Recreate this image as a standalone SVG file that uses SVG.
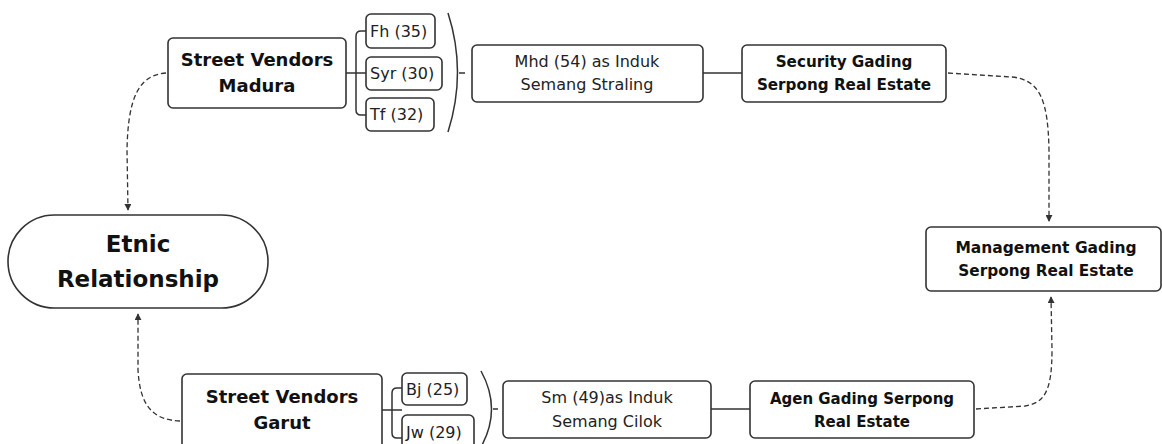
<svg xmlns="http://www.w3.org/2000/svg" width="1162" height="444" viewBox="0 0 1162 444">
<style>
.box{fill:#fff;stroke:#333;stroke-width:1.6}
.b{font-family:"DejaVu Sans",sans-serif;font-weight:bold;fill:#111;text-anchor:middle}
.r{font-family:"DejaVu Sans",sans-serif;font-weight:normal;fill:#222;text-anchor:middle;font-size:16px}
.l{font-family:"DejaVu Sans",sans-serif;font-weight:normal;fill:#222;font-size:16px}
.solid{fill:none;stroke:#333;stroke-width:1.5}
.dash{fill:none;stroke:#333;stroke-width:1.3;stroke-dasharray:5 3}
</style>
<defs>
<marker id="arr" viewBox="0 0 8 8" refX="7" refY="4" markerWidth="7" markerHeight="7" markerUnits="userSpaceOnUse" orient="auto">
<path d="M0,0 L8,4 L0,8 Z" fill="#333"/>
</marker>
</defs>
<rect width="1162" height="444" fill="#fff"/>
<g id="connectors">
<path class="dash" d="M166,73 C140,75 128,95 127,150 L128,210" marker-end="url(#arr)"/>
<path class="dash" d="M180,421 C152,420 140,405 138,370 L138,314" marker-end="url(#arr)"/>
<path class="dash" d="M948,73 L1012,77 C1040,80 1048,100 1049,150 L1049,221" marker-end="url(#arr)"/>
<path class="dash" d="M976,409 L1025,406 C1045,403 1052,390 1052,350 L1051,297" marker-end="url(#arr)"/>
<path class="solid" d="M703,73 H742"/>
<path class="solid" d="M711,409 H750"/>
<path class="solid" d="M346,73 H366 M366,31 H361 Q356,31 356,36 V110 Q356,115 361,115 H366"/>
<path class="solid" d="M382,410 H402 M402,388 H397 Q392,388 392,393 V433 Q392,438 397,438 H402"/>
<path class="solid" d="M448,13 Q467,72 448,132 M459,73 H465"/>
<path class="solid" d="M481,371 Q502,409 481,447 M493,409 H498"/>
</g>
<g id="etnic">
<rect class="box" x="8" y="215" width="260" height="93" rx="46.5"/>
<text class="b" font-size="23" x="138" y="252">Etnic</text>
<text class="b" font-size="23" x="138" y="287">Relationship</text>
</g>
<g id="madura">
<rect class="box" x="168" y="38" width="178" height="70" rx="5"/>
<text class="b" font-size="18" x="257" y="66">Street Vendors</text>
<text class="b" font-size="18" x="257" y="92">Madura</text>
</g>
<g id="fh">
<rect class="box" x="366" y="14" width="69" height="34" rx="5"/>
<text class="l" x="370" y="37">Fh (35)</text>
</g>
<g id="syr">
<rect class="box" x="366" y="57" width="76" height="33" rx="5"/>
<text class="l" x="370" y="79">Syr (30)</text>
</g>
<g id="tf">
<rect class="box" x="366" y="98" width="68" height="33" rx="5"/>
<text class="l" x="370" y="120">Tf (32)</text>
</g>
<g id="mhd">
<rect class="box" x="472" y="45" width="231" height="57" rx="5"/>
<text class="r" x="587" y="67">Mhd (54) as Induk</text>
<text class="r" x="587" y="90">Semang Straling</text>
</g>
<g id="security">
<rect class="box" x="742" y="45" width="204" height="57" rx="5"/>
<text class="b" font-size="15.2" x="844" y="67">Security Gading</text>
<text class="b" font-size="15.2" x="844" y="90">Serpong Real Estate</text>
</g>
<g id="management">
<rect class="box" x="926" y="227" width="235" height="64" rx="5"/>
<text class="b" font-size="15.5" x="1046" y="253">Management Gading</text>
<text class="b" font-size="15.3" x="1046" y="276">Serpong Real Estate</text>
</g>
<g id="garut">
<rect class="box" x="182" y="374" width="200" height="86" rx="5"/>
<text class="b" font-size="18" x="282" y="403">Street Vendors</text>
<text class="b" font-size="18" x="282" y="429">Garut</text>
</g>
<g id="bj">
<rect class="box" x="402" y="373" width="65" height="32" rx="5"/>
<text class="l" x="406" y="395">Bj (25)</text>
</g>
<g id="jw">
<rect class="box" x="402" y="415" width="72" height="38" rx="5"/>
<text class="l" x="406" y="438">Jw (29)</text>
</g>
<g id="sm">
<rect class="box" x="503" y="381" width="208" height="57" rx="5"/>
<text class="r" x="607" y="403">Sm (49)as Induk</text>
<text class="r" x="607" y="427">Semang Cilok</text>
</g>
<g id="agen">
<rect class="box" x="750" y="381" width="224" height="57" rx="5"/>
<text class="b" font-size="15" x="862" y="404">Agen Gading Serpong</text>
<text class="b" font-size="15" x="862" y="427">Real Estate</text>
</g>
</svg>
